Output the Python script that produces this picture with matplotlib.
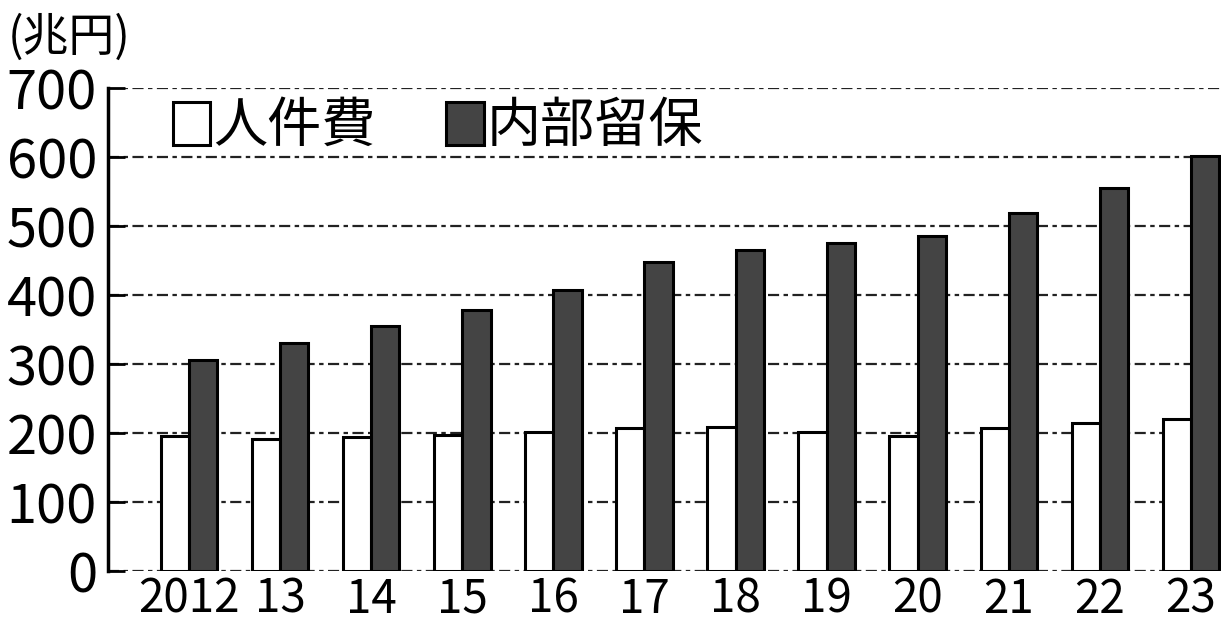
import matplotlib
matplotlib.use("Agg")
import matplotlib.pyplot as plt
from matplotlib.patches import Patch
import numpy as np

plt.rcParams['font.family'] = ['Noto Sans CJK JP', 'DejaVu Sans']

years = ['2012', '13', '14', '15', '16', '17', '18', '19', '20', '21', '22', '23']
labor_cost = [196, 191, 194, 197, 201, 207, 209, 201, 196, 207, 214, 220]
retained = [306, 330, 355, 378, 407, 448, 465, 475, 486, 519, 555, 601]

fig = plt.figure(figsize=(12.21, 6.3), dpi=100)
ax = fig.add_axes([108 / 1221, 59 / 630, 1 - 108 / 1221, 483 / 630])

x = np.arange(len(years))
w = 0.31
ax.bar(x - w / 2, labor_cost, w, color='white', edgecolor='black', linewidth=2.2, zorder=3)
ax.bar(x + w / 2, retained, w, color='#444444', edgecolor='black', linewidth=2.2, zorder=3)

ax.set_xlim(-0.89, 11.33)
ax.set_ylim(0, 700)
ax.set_yticks(range(0, 701, 100))
ax.set_xticks(x)
ax.set_xticklabels(years)

ax.yaxis.grid(True, color='#222222', linestyle=(0, (5, 2, 2, 2)), linewidth=1.6, zorder=0)
ax.tick_params(axis='y', direction='in', length=12, width=2, labelsize=39, pad=8)
ax.tick_params(axis='x', length=0, labelsize=33, pad=3)

for s in ['top', 'right', 'bottom']:
    ax.spines[s].set_visible(False)
ax.spines['left'].set_linewidth(2.5)

handles = [Patch(facecolor='white', edgecolor='black', linewidth=2.2),
           Patch(facecolor='#444444', edgecolor='black', linewidth=2.2)]
ax.legend(handles, ['人件費', '内部留保'], loc='center left', bbox_to_anchor=(0.058, 0.92),
          ncol=2, frameon=False, fontsize=39, handlelength=0.7, handleheight=0.85,
          handletextpad=0.05, columnspacing=1.3, borderpad=0, borderaxespad=0)

fig.text(8 / 1221, 1 - 38 / 630, '(兆円)', fontsize=33, va='center', ha='left')

fig.savefig('out.png', dpi=100)
